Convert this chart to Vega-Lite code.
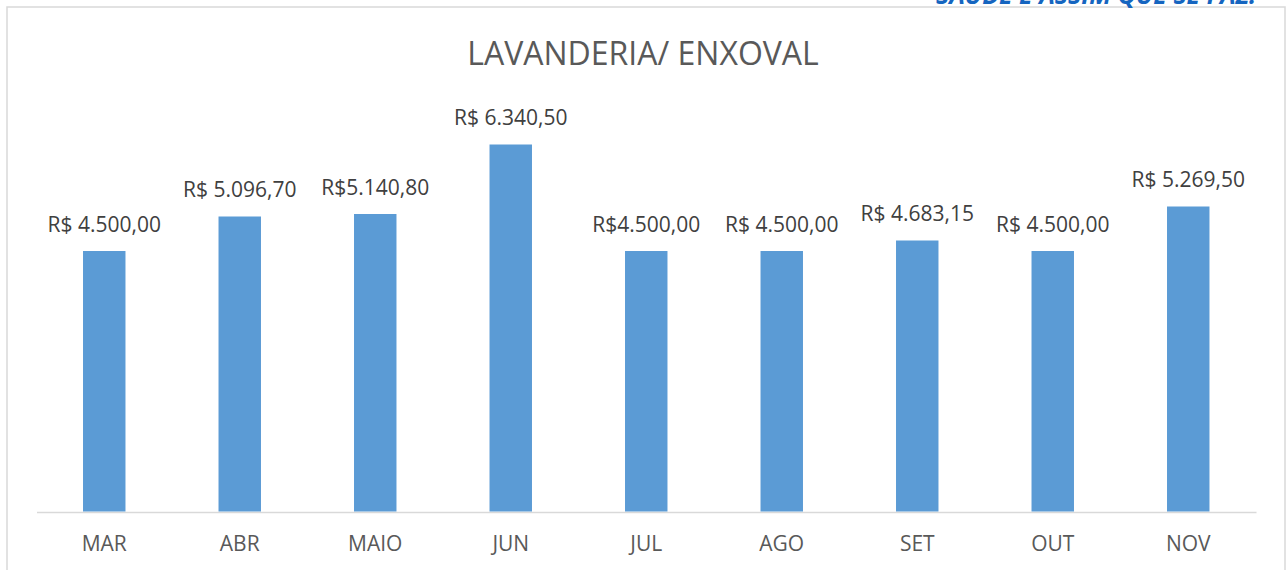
{
  "$schema": "https://vega.github.io/schema/vega-lite/v6.json",
  "width": 1278,
  "height": 570,
  "autosize": {"type": "none"},
  "padding": {"left": 7, "top": 7, "right": 2, "bottom": 0},
  "background": "white",
  "title": {
    "text": "LAVANDERIA/ ENXOVAL",
    "font": "Open Sans",
    "fontSize": 32,
    "fontWeight": "normal",
    "color": "#595959",
    "anchor": "middle",
    "frame": "group",
    "baseline": "alphabetic",
    "offset": -113,
    "dx": -3
  },
  "config": {
    "view": {"stroke": "#d9d9d9", "strokeWidth": 1.5},
    "font": "Open Sans"
  },
  "datasets": {
    "meses": [
      {"mes": "MAR", "valor": 4500.00, "rotulo": "R$ 4.500,00"},
      {"mes": "ABR", "valor": 5096.70, "rotulo": "R$ 5.096,70"},
      {"mes": "MAIO", "valor": 5140.80, "rotulo": "R$5.140,80"},
      {"mes": "JUN", "valor": 6340.50, "rotulo": "R$ 6.340,50"},
      {"mes": "JUL", "valor": 4500.00, "rotulo": "R$4.500,00"},
      {"mes": "AGO", "valor": 4500.00, "rotulo": "R$ 4.500,00"},
      {"mes": "SET", "valor": 4683.15, "rotulo": "R$ 4.683,15"},
      {"mes": "OUT", "valor": 4500.00, "rotulo": "R$ 4.500,00"},
      {"mes": "NOV", "valor": 5269.50, "rotulo": "R$ 5.269,50"}
    ],
    "lema": [
      {"mes": "NOV", "valor": 8760, "slogan": "SAÚDE É ASSIM QUE SE FAZ!"}
    ]
  },
  "encoding": {
    "x": {
      "field": "mes",
      "type": "nominal",
      "sort": null,
      "scale": {"range": [29.5, 1249], "paddingInner": 0.6866, "paddingOuter": 0.3433},
      "axis": {
        "title": null,
        "orient": "bottom",
        "offset": -65,
        "domainColor": "#d9d9d9",
        "domainWidth": 1.5,
        "ticks": false,
        "tickSize": 0,
        "labelPadding": 38,
        "labelBaseline": "alphabetic",
        "labelAngle": 0,
        "labelFont": "Open Sans",
        "labelFontSize": 21,
        "labelColor": "#595959"
      }
    },
    "y": {
      "field": "valor",
      "type": "quantitative",
      "scale": {"domain": [-1131, 8715], "nice": false, "zero": false},
      "axis": null
    }
  },
  "layer": [
    {
      "data": {"name": "meses"},
      "mark": {"type": "bar", "color": "#5b9bd5"},
      "encoding": {"y2": {"datum": 0}}
    },
    {
      "data": {"name": "meses"},
      "mark": {
        "type": "text",
        "baseline": "alphabetic",
        "dy": -19,
        "font": "Open Sans",
        "fontSize": 21,
        "color": "#404040"
      },
      "encoding": {"text": {"field": "rotulo"}}
    },
    {
      "data": {"name": "lema"},
      "mark": {
        "type": "text",
        "align": "right",
        "baseline": "alphabetic",
        "font": "Open Sans",
        "fontSize": 25,
        "fontWeight": "bold",
        "fontStyle": "italic",
        "color": "#1565c0",
        "clip": false
      },
      "encoding": {
        "x": {"field": "mes", "type": "nominal", "bandPosition": 2.1},
        "text": {"field": "slogan"}
      }
    }
  ]
}
